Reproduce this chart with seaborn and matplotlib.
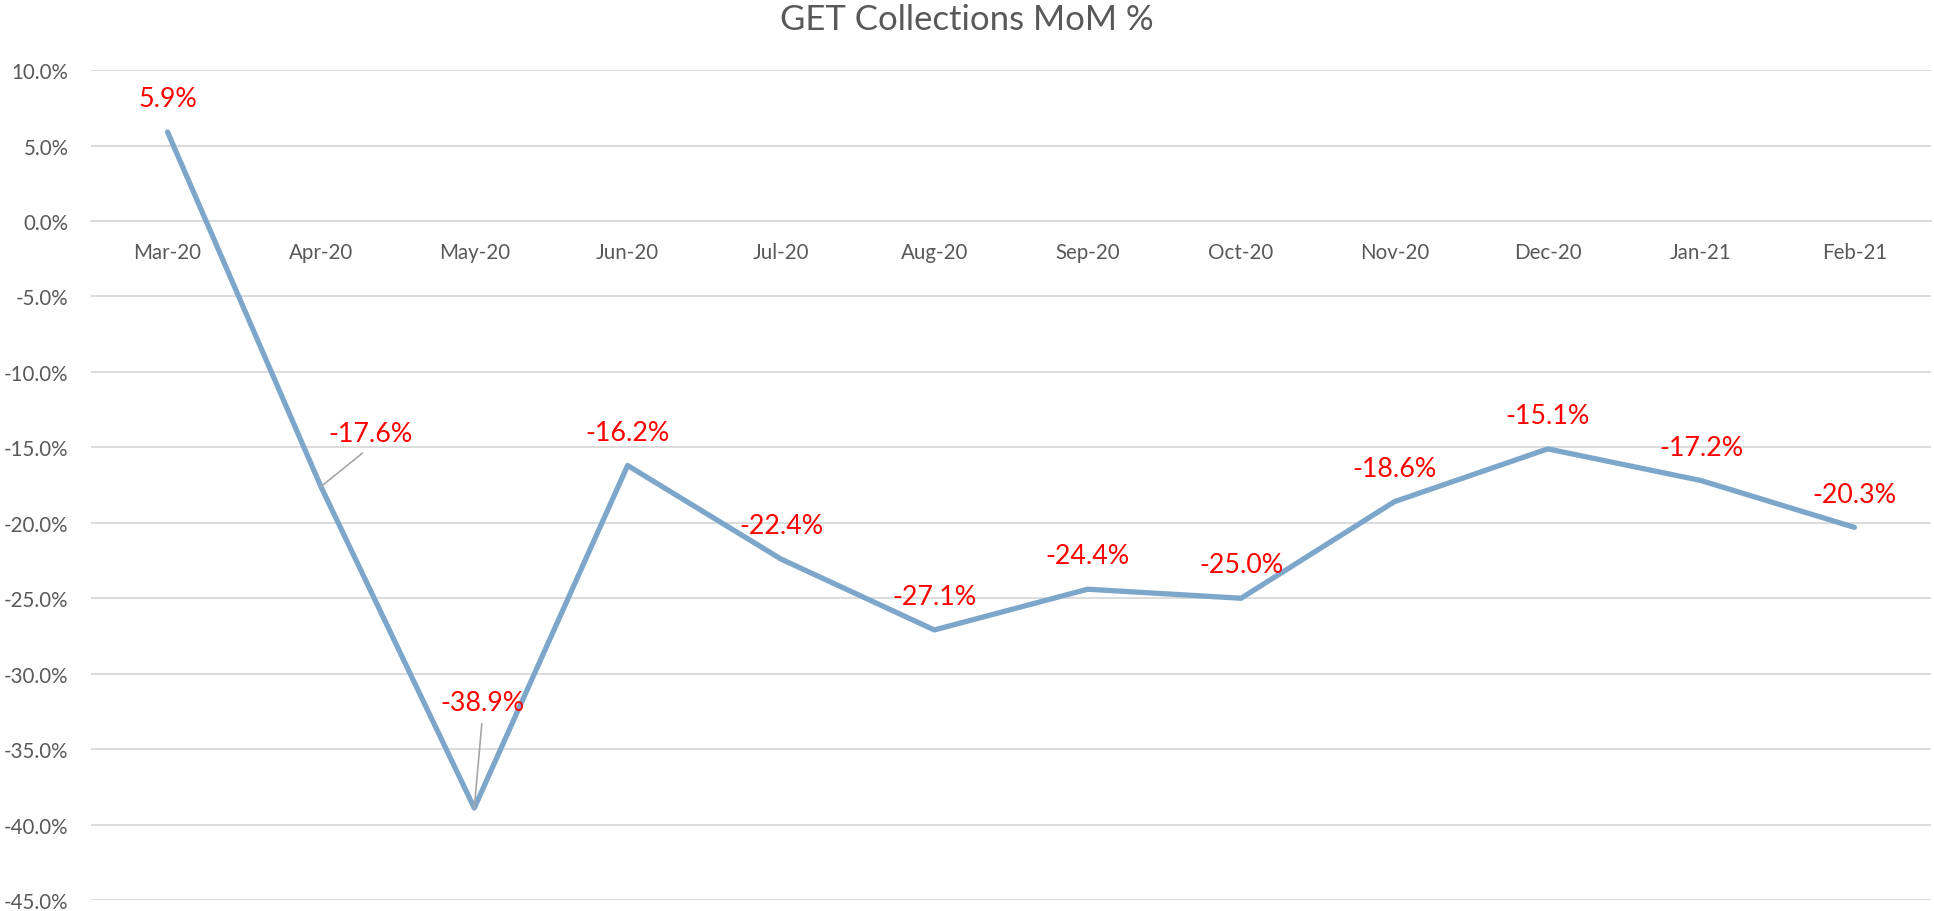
import matplotlib
matplotlib.use("Agg")
import matplotlib.pyplot as plt
import seaborn as sns
import pandas as pd
import numpy as np
from matplotlib.ticker import FuncFormatter, FixedLocator

months = ["Mar-20", "Apr-20", "May-20", "Jun-20", "Jul-20", "Aug-20",
          "Sep-20", "Oct-20", "Nov-20", "Dec-20", "Jan-21", "Feb-21"]
mom_pct = [5.9, -17.6, -38.9, -16.2, -22.4, -27.1, -24.4, -25.0, -18.6, -15.1, -17.2, -20.3]
title = "GET Collections MoM %"

sns.set_theme(style="white")
plt.rcParams["font.family"] = ["Lato", "DejaVu Sans"]

df = pd.DataFrame({"month": months, "pct": mom_pct, "x": np.arange(len(months))})

fig = plt.figure(figsize=(19.34, 9.12), dpi=100)
ax = fig.add_axes([0.047, 0.012, 0.9515, 0.910])

sns.lineplot(data=df, x="x", y="pct", ax=ax, color="#7DA7CA", linewidth=3.8,
             sort=False, solid_capstyle="round", solid_joinstyle="round", zorder=3)

ax.set_xlim(-0.5, len(months) - 0.5)
ax.set_ylim(-45, 10)
ax.yaxis.set_major_locator(FixedLocator(np.arange(-45, 10.01, 5)))
ax.yaxis.set_major_formatter(FuncFormatter(lambda v, p: f"{v:.1f}%"))
ax.grid(axis="y", color="#D9D9D9", linewidth=1.3, zorder=0)
ax.grid(axis="x", visible=False)

for s in ["top", "right", "left"]:
    ax.spines[s].set_visible(False)
ax.spines["bottom"].set_position(("data", 0))
ax.spines["bottom"].set_color("#D9D9D9")
ax.spines["bottom"].set_linewidth(1.3)

ax.set_xticks(df["x"])
ax.set_xticklabels(months)
ax.set_xticks(np.arange(-0.5, len(months), 1.0), minor=True)
ax.tick_params(axis="x", which="major", length=0, pad=15, labelsize=14.8, colors="#595959")
ax.tick_params(axis="x", which="minor", length=5, width=1.3, color="#D9D9D9", direction="out")
ax.tick_params(axis="y", length=0, pad=16, labelsize=14.8, colors="#595959")
ax.set_xlabel("")
ax.set_ylabel("")

offsets = {1: (36, 38), 2: (6, 76)}
for i, v in enumerate(mom_pct):
    if i in offsets:
        dx, dy = offsets[i]
        ax.annotate(f"{v:.1f}%", xy=(i, v), xytext=(dx, dy), textcoords="offset points",
                    ha="center", va="center", color="#FF0000", fontsize=19.3, zorder=5,
                    arrowprops=dict(arrowstyle="-", color="#A6A6A6", lw=1.2,
                                    relpos=(0.5, 0.0), shrinkA=4, shrinkB=0))
    else:
        ax.annotate(f"{v:.1f}%", xy=(i, v), xytext=(0, 24), textcoords="offset points",
                    ha="center", va="center", color="#FF0000", fontsize=19.3, zorder=5)

fig.text(0.5, 0.978, title, ha="center", va="center", fontsize=25, color="#595959")

fig.savefig("out.png", dpi=100, facecolor="white")
